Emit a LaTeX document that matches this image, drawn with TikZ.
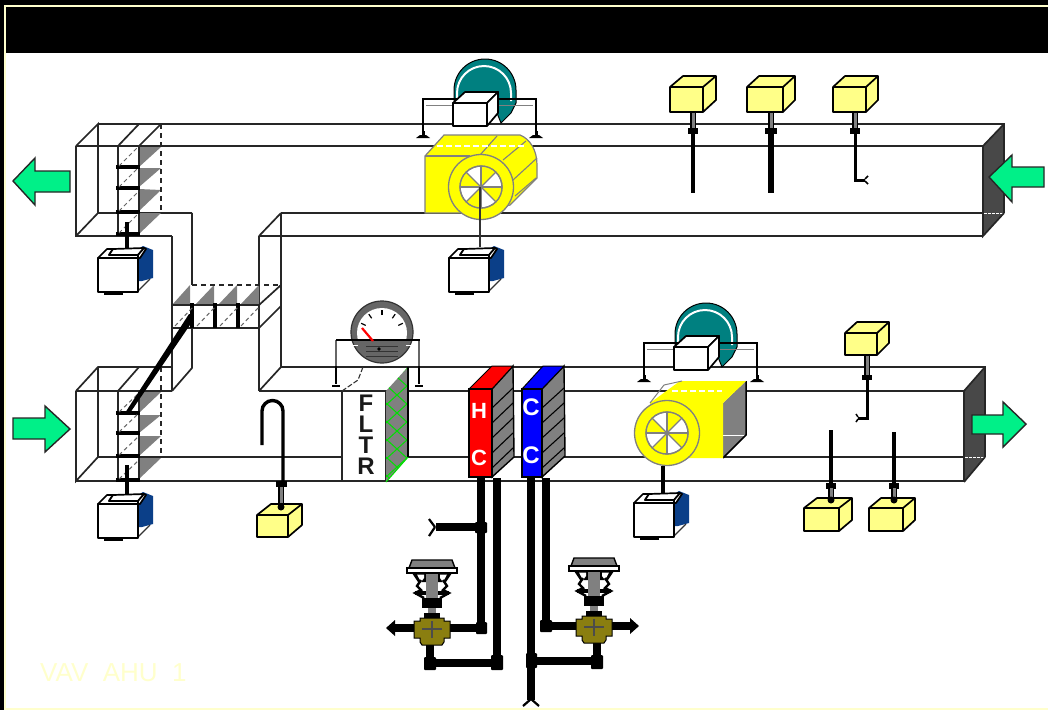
\documentclass[tikz,border=0pt]{standalone}
\usepackage{fontspec}
\setmainfont{Liberation Sans}
\usetikzlibrary{arrows.meta,calc}
\definecolor{paley}{HTML}{FFFFCC}
\definecolor{sensy}{HTML}{FFFF88}
\definecolor{fany}{HTML}{FFFF00}
\definecolor{arrowg}{HTML}{00F088}
\definecolor{teal1}{HTML}{008080}
\definecolor{endgray}{HTML}{484848}
\definecolor{g1}{HTML}{808080}
\definecolor{ctrlblue}{HTML}{0B3F88}
\definecolor{olive1}{HTML}{8A7E10}
\definecolor{lat}{HTML}{00E000}
\tikzset{
  duct/.style={draw=black!85,line width=1.7pt,line join=miter},
  thin line/.style={draw=black!80,line width=1.2pt},
  dashline/.style={draw=black!85,line width=1.5pt,dash pattern=on 5pt off 4pt},
  dashfine/.style={draw=black!60,line width=1pt,dash pattern=on 4pt off 3pt},
  bladebar/.style={draw=black,line width=3.4pt},
  greytri/.style={fill=g1,draw=none},
  pipe/.style={draw=black,line width=8pt},
  blob/.style={fill=black,rounded corners=1pt},
  flow/.style={fill=arrowg,draw=black!85,line width=1.4pt,line join=miter},
  boxline/.style={draw=black,line width=1.7pt,line join=round},
  ctrlbox/.pic={
    \fill[ctrlblue] (40,-9) -- (45,-12) -- (55,-8) -- (55,20) -- (44,23) -- (40,23) -- cycle;
    \draw[boxline,fill=white] (0,0) -- (9,-9) -- (15,-9) -- (11,-3) -- (40,-3) -- (40,0) -- cycle;
    \draw[boxline,fill=white] (15,-9) -- (11,-3) -- (40,-3) -- (46,-10) -- cycle;
    \draw[boxline,fill=white] (40,-3) -- (46,-10) -- (48,-9) -- (42,0) -- (40,0) -- cycle;
    \draw[thin line] (40,33) -- (52,21);
    \draw[boxline,fill=white] (0,0) rectangle (40,34);
    \fill (6,34) rectangle (25,37);
  },
  sens/.pic={
    \draw[boxline,fill=sensy] (0,0) -- (\sb,-\sd) -- (\sx+\sb,-\sd) -- (\sx+\sb,\sy-\sd-1) -- (\sx,\sy) -- (0,\sy) -- cycle;
    \draw[boxline] (0,0) -- (\sx,0) -- (\sx,\sy);
    \draw[boxline] (\sx,0) -- (\sx+\sb,-\sd);
  },
  sstem/.pic={
    \draw[black,line width=6pt] (0,0) -- (0,\sl);
    \draw[g1,line width=3pt] (0,0) -- (0,\sl);
  },
  actuator/.pic={
    \fill[teal1,draw=black,line width=1pt] (1,-2) -- (1,-13) arc[start angle=180,end angle=360,radius=31] -- (63,0) -- (58,10) -- (48,20) -- (40,0) -- cycle;
    \draw[white,line width=2pt] (4,-2) -- (4,-10) arc[start angle=180,end angle=360,radius=27] -- (58,-2);
    \draw[black,line width=1.8pt] (-30,31) -- (-30,-4) -- (83,-4) -- (83,31);
    \draw[black!50,line width=1pt] (-27,2) -- (80,2);
    \draw[black,line width=3pt] (-30,28) -- (-30,33);
    \draw[black,line width=3pt] (83,28) -- (83,33);
    \fill[black] (-37,35) -- (-33,32) -- (-27,32) -- (-23,35) -- cycle;
    \fill[black] (76,35) -- (80,32) -- (86,32) -- (90,35) -- cycle;
    \draw[boxline,fill=white] (0,0) -- (12,-11) -- (45,-11) -- (34,0) -- cycle;
    \draw[boxline,fill=white] (34,0) -- (45,-11) -- (45,10) -- (34,23) -- cycle;
    \draw[boxline,fill=white] (0,0) rectangle (34,23);
  },
  wheel/.pic={
    \draw[fill=fany,draw=g1,line width=1.3pt] (0,0) circle[radius=32.5];
    \draw[fill=white,draw=g1,line width=1.3pt] (0,0) circle[radius=21];
    \foreach \a in {-90,-180,90,0} \fill[fany] (0,0) -- (\a:21) arc[start angle=\a,end angle=\a+45,radius=21] -- cycle;
    \foreach \a in {0,45,...,315} \draw[g1,line width=1.3pt] (0,0) -- (\a:21);
    \draw[g1,line width=1.3pt] (0,0) circle[radius=21];
  },
  valvecore/.pic={
    \fill[g1,draw=black,line width=1.4pt] (-20,-68) -- (20,-68) -- (23,-60) -- (-23,-60) -- cycle;
    \fill[white,draw=black,line width=1.4pt] (-25,-60) rectangle (25,-55);
    \fill[black] (-20,-55) -- (20,-55) -- (14,-46) -- (-14,-46) -- cycle;
    \fill[white] (-15,-53.5) -- (-8,-53.5) -- (-8,-50) -- (-11,-46) -- cycle;
    \fill[white] (15,-53.5) -- (8,-53.5) -- (8,-50) -- (11,-46) -- cycle;
    \draw[black,line width=2.4pt] (-11,-48) -- (-15,-42) -- (-11,-38) -- (-17,-35) -- (-8,-30);
    \draw[black,line width=2.4pt] (11,-48) -- (15,-42) -- (11,-38) -- (17,-35) -- (8,-30);
    \fill[black] (-17,-37) rectangle (17,-33);
    \fill[g1] (-6,-54) rectangle (6,-30);
    \fill[black] (-10,-30) rectangle (10,-20);
    \fill[g1] (-4,-20) rectangle (4,-15);
    \fill[black] (-8,-15) rectangle (8,-10);
    \fill[olive1,draw=black,line width=1pt] (-12,-10) -- (12,-10) -- (12,-7) -- (18,-7) -- (18,10) -- (12,10) -- (12,14) -- (10,17) -- (-10,17) -- (-12,14) -- (-12,10) -- (-18,10) -- (-18,-7) -- (-12,-7) -- cycle;
    \draw[black!70,line width=1.4pt] (0,-7) -- (0,10) (-10,1) -- (10,1);
  },
}
\newcommand{\setsens}[4]{\def\sx{#1}\def\sy{#2}\def\sb{#3}\def\sd{#4}}
\newcommand{\stemlen}[1]{\def\sl{#1}}
\begin{document}
\begin{tikzpicture}[x=1pt,y=-1pt,line cap=butt]
\useasboundingbox (0,0) rectangle (1048,710);
\fill[black] (0,0) rectangle (1048,710);
\fill[paley] (4,5) rectangle (1048,710);
\fill[white] (6,7) rectangle (1048,708);
\fill[black] (6,7) rectangle (1048,53);
\node[anchor=base west,inner sep=0pt,text=paley,font=\fontsize{26}{30}\selectfont] (title) at (40,681) {VAV\ \ AHU\ \ 1};

% ---- upper duct
\fill[endgray] (983,146) -- (1004,124) -- (1004,213) -- (983,236) -- cycle;
\draw[white,line width=1pt,dash pattern=on 3pt off 1pt] (984,213) -- (1004,213);
\draw[duct] (76,146) -- (983,146);
\draw[duct] (98,124) -- (1004,124) -- (1004,213);
\draw[duct] (76,146) -- (98,124) -- (98,213);
\draw[duct] (76,146) -- (76,236) -- (172,236);
\draw[duct] (76,236) -- (98,213) -- (192,213);
\draw[duct] (983,146) -- (983,236) -- (1004,213);
\draw[duct] (983,146) -- (1004,124);
\draw[duct] (281,213) -- (983,213);
\draw[duct] (259,236) -- (983,236);
\draw[duct] (259,236) -- (281,213);
\draw[duct] (118,146) -- (139,124);
\draw[duct] (139,146) -- (161,124);
\fill[greytri] (139,147) -- (161,147) -- (139,167) -- cycle;
\fill[greytri] (139,168) -- (161,168) -- (139,187) -- cycle;
\fill[greytri] (139,189) -- (161,190) -- (139,211) -- cycle;
\fill[greytri] (139,213) -- (161,213) -- (139,234) -- cycle;
\draw[dashline] (161,124) -- (161,213);
\draw[duct] (118,146) -- (118,236) (139,146) -- (139,236);
\foreach \yy in {167,188,212,234} \draw[bladebar] (116,\yy) -- (140,\yy);
\foreach \yy in {167,188,212,234} \draw[dashfine] (119,\yy-1) -- (139,\yy-21);
\draw[duct] (172,236) -- (172,305);
\draw[duct] (192,213) -- (192,285);
\draw[duct] (281,213) -- (281,367);
\draw[duct] (259,236) -- (259,391);
\fill[greytri] (172,305) -- (190,305) -- (190,285) -- cycle;
\fill[greytri] (195,305) -- (214,305) -- (214,285) -- cycle;
\fill[greytri] (218,305) -- (237,305) -- (237,285) -- cycle;
\fill[greytri] (240,305) -- (259,305) -- (259,285) -- cycle;
\draw[dashline] (192,285) -- (281,285);
\draw[duct] (172,305) -- (259,305) (172,328) -- (259,328);
\draw[duct] (172,305) -- (172,391) (192,305) -- (192,368) -- (172,391);
\draw[duct] (259,328) -- (281,306) (259,305) -- (281,285);
\foreach \xx in {192,215,238} \draw[bladebar] (\xx,303) -- (\xx,328);
\foreach \xx in {175,197,220,241} \draw[dashfine] (\xx,326) -- (\xx+18,307);

% ---- lower duct
\fill[endgray] (964,391) -- (985,367) -- (985,457) -- (964,482) -- cycle;
\draw[white,line width=1pt,dash pattern=on 3pt off 1pt] (965,457) -- (985,457);
\draw[duct] (281,367) -- (985,367) -- (985,457);
\draw[duct] (259,391) -- (964,391) -- (964,482);
\draw[duct] (259,391) -- (281,367);
\draw[duct] (98,457) -- (964,457);
\draw[duct] (76,481) -- (964,481);
\draw[duct] (964,391) -- (985,367) (964,482) -- (985,457);
\draw[duct] (76,391) -- (98,367) -- (172,367);
\draw[duct] (76,391) -- (172,391);
\draw[duct] (76,391) -- (76,481) -- (98,457) -- (98,367);
\draw[duct] (118,391) -- (139,367);
\fill[greytri] (139,392) -- (161,392) -- (139,413) -- cycle;
\fill[greytri] (139,415) -- (161,415) -- (139,433) -- cycle;
\fill[greytri] (139,436) -- (161,436) -- (139,456) -- cycle;
\fill[greytri] (139,458) -- (161,458) -- (139,479) -- cycle;
\draw[dashline] (161,367) -- (161,457);
\draw[duct] (118,391) -- (118,481) (139,391) -- (139,481);
\foreach \yy in {413,433,456,480} \draw[bladebar] (116,\yy) -- (140,\yy);
\foreach \yy in {413,433,456,480} \draw[dashfine] (119,\yy-1) -- (139,\yy-20);
\fill[black] (125,413) -- (130,413) -- (192,322) -- (192,314) -- (189,314) -- cycle;

% ---- left actuators
\draw[black,line width=3.6pt] (127,222) -- (127,248);
\pic at (98,258) {ctrlbox};
\draw[black,line width=3.6pt] (127,465) -- (127,494);
\pic at (98,504) {ctrlbox};

% ---- arrows
\draw[flow] (13,181) -- (35,158) -- (35,171) -- (70,171) -- (70,192) -- (35,192) -- (35,205) -- cycle;
\draw[flow] (13,418) -- (45,418) -- (45,406) -- (70,429) -- (45,452) -- (45,439) -- (13,439) -- cycle;
\draw[flow] (989,177) -- (1012,155) -- (1012,167) -- (1044,167) -- (1044,187) -- (1012,187) -- (1012,202) -- cycle;
\draw[flow] (972,415) -- (1003,415) -- (1003,402) -- (1026,424) -- (1003,447) -- (1003,434) -- (972,434) -- cycle;

% ---- upper fan
\pic at (453,103) {actuator};
\fill[fany,draw=g1,line width=1.2pt] (425,213) -- (425,156) -- (444,135) -- (520,135) .. controls (530,139) and (537,150) .. (537,165) -- (537,178) -- (510,205) -- (480,213) -- cycle;
\draw[g1,line width=1.1pt] (425,156) -- (470,156);
\draw[g1,line width=1.1pt] (497,136) -- (480,155) (526,141) -- (503,160) (537,158) -- (513,180) (536,178) -- (515,196);
\draw[white,line width=1.3pt,dash pattern=on 6pt off 3pt] (437,146) -- (526,146);
\pic at (481,187) {wheel};
\draw[black!80,line width=1.4pt] (480,187) -- (480,247);
\pic at (449,258) {ctrlbox};

% ---- lower fan
\pic at (674,347) {actuator};
\fill[g1] (723,403) -- (746,381) -- (746,435) -- (723,458) -- cycle;
\draw[white,line width=1pt] (723,435) -- (746,435);
\draw[black,line width=1.5pt] (723,458) -- (746,435) -- (746,381);
\fill[fany] (723,403) -- (723,458) -- (650,458) -- (650,403) -- (680,381) -- (746,381) -- cycle;
\draw[g1,line width=1pt] (650,403) -- (664,385) -- (682,381);
\draw[white,line width=1.3pt,dash pattern=on 6pt off 3pt] (672,391) -- (722,391);
\pic at (667,433) {wheel};
\draw[black,line width=3.6pt] (663,466) -- (663,493);
\pic at (634,503) {ctrlbox};

% ---- gauge
\fill[black!60,draw=black!80,line width=1.2pt] (382,332) circle[radius=31];
\begin{scope}
\clip (340,300) rectangle (425,340);
\fill[white] (382,333) circle[radius=25];
\end{scope}
\foreach \a in {25,55,90,125,155} \draw[black,line width=1.2pt] ($(382,333)+(-\a:18)$) -- ($(382,333)+(-\a:23)$);
\draw[black!60,line width=1.4pt] (336,340) -- (336,367) (419,340) -- (419,367);
\draw[black,line width=2pt] (336,340) -- (420,340);
\draw[white,line width=1pt] (338,345) -- (358,345) (406,345) -- (418,345);
\foreach \yy in {346,351,356} \draw[black!80,line width=1pt] (366,\yy) -- (398,\yy);
\fill[black] (379,349) circle[radius=1.8];
\draw[red,line width=2.2pt] (362,328) -- (373,341);
\draw[black,line width=2.8pt] (336,366) -- (336,384) (419,366) -- (419,384);
\draw[black,line width=1.8pt] (332,386) -- (340,386) (415,386) -- (423,386);

% ---- filter
\fill[white] (342,392) rectangle (386,480);
\draw[duct] (342,391) -- (342,481) (386,391) -- (386,481);
\draw[black!80,line width=1.1pt,dash pattern=on 5pt off 2pt] (342,391) -- (358,380) -- (363,367);
\fill[g1] (386,391) -- (408,367) -- (408,457) -- (386,482) -- cycle;
\begin{scope}
\clip (386,391) -- (408,367) -- (408,457) -- (386,482) -- cycle;
\foreach \k in {-3,...,5} {
  \draw[lat,line width=1pt] (386,355+\k*18+30) -- (408,355+\k*18+50);
  \draw[lat,line width=1pt] (386,355+\k*18+50) -- (408,355+\k*18+30);
}
\end{scope}
\draw[lat,line width=1.1pt] (386,482) -- (408,457);
\draw[black,line width=1.3pt] (408,367) -- (408,457);
\node[inner sep=0pt,align=center,text=black!90,font=\fontsize{24}{21}\selectfont\bfseries] (fltr) at (366,435) {F\\L\\T\\R};

% ---- coils
\fill[g1,draw=black,line width=1.4pt] (492,389) -- (513,366) -- (514,457) -- (492,477) -- cycle;
\fill[red,draw=black,line width=1pt] (469,389) -- (492,366) -- (513,366) -- (492,389) -- cycle;
\fill[red,draw=black,line width=1.4pt] (469,389) rectangle (492,477);
\foreach \k in {0,...,4} \draw[black,line width=1.1pt] (492,408+\k*15) -- (513,388+\k*15);
\node[inner sep=0pt,text=white,font=\fontsize{22}{22}\selectfont\bfseries] (hch) at (479,411) {H};
\node[inner sep=0pt,text=white,font=\fontsize{22}{22}\selectfont\bfseries] (hcc) at (479,458) {C};
\fill[g1,draw=black,line width=1.4pt] (542,389) -- (564,366) -- (565,456) -- (542,477) -- cycle;
\fill[blue,draw=black,line width=1pt] (522,389) -- (543,366) -- (564,366) -- (542,389) -- cycle;
\fill[blue,draw=black,line width=1.4pt] (522,389) rectangle (542,477);
\foreach \k in {0,...,4} \draw[black,line width=1.1pt] (542,408+\k*15) -- (564,388+\k*15);
\node[inner sep=0pt,text=white,font=\fontsize{24}{24}\selectfont\bfseries] (cca) at (531,407) {C};
\node[inner sep=0pt,text=white,font=\fontsize{24}{24}\selectfont\bfseries] (ccb) at (531,455) {C};

% ---- pipes
\draw[pipe] (481,478) -- (481,628);
\draw[pipe] (497,478) -- (497,663) -- (430,663) -- (430,640);
\draw[pipe] (531,478) -- (531,700);
\draw[pipe] (546,478) -- (546,626) -- (600,626);
\draw[pipe] (531,661) -- (597,661) -- (597,640);
\draw[pipe] (436,527) -- (481,527);
\draw[pipe] (481,628) -- (395,628);
\draw[pipe] (600,626) -- (630,626);
\draw[black,line width=2.2pt] (435,527) -- (429,519) (435,527) -- (429,536);
\draw[black,line width=2.2pt] (531,699) -- (523,706) (531,699) -- (539,706);
\fill[black] (395,620) -- (386,628) -- (395,636) -- cycle;
\fill[black] (630,618) -- (639,626) -- (630,634) -- cycle;
\fill[blob] (475,522) rectangle (487,533);
\fill[blob] (476,622) rectangle (487,634);
\fill[blob] (491,655) rectangle (503,670);
\fill[blob] (424,657) rectangle (436,670);
\fill[blob] (526,653) rectangle (537,668);
\fill[blob] (591,655) rectangle (603,669);
\fill[blob] (540,620) rectangle (552,632);
\pic at (432,628) {valvecore};
\pic at (594,626) {valvecore};

% ---- sensors
\stemlen{17}
\setsens{33}{25}{13}{11}
\pic at (693,112) {sstem};
\fill[black] (688,128) rectangle (698,134);
\draw[black,line width=3.8pt] (693,134) -- (693,193);
\pic at (670,87) {sens};
\setsens{36}{25}{12}{11}
\pic at (771,112) {sstem};
\fill[black] (765,128) rectangle (777,134);
\draw[black,line width=5.5pt] (771,134) -- (771,193);
\pic at (747,87) {sens};
\setsens{33}{25}{12}{11}
\pic at (855,112) {sstem};
\fill[black] (850,128) rectangle (860,134);
\draw[black,line width=3pt,line join=miter] (855,134) -- (855,180) -- (865,180);
\draw[black,line width=1.5pt] (865,179) -- (868,176) (865,181) -- (868,184);
\pic at (833,87) {sens};
\setsens{32}{22}{12}{11}
\stemlen{20}
\pic at (867,355) {sstem};
\fill[black] (862,375) rectangle (872,380);
\draw[black,line width=3pt,line join=miter] (867,380) -- (867,418) -- (858,418);
\draw[black,line width=1.5pt] (858,417) -- (856,414) (858,419) -- (856,422);
\pic at (845,333) {sens};
\stemlen{13}
\setsens{35}{23}{13}{10}
\draw[black,line width=3.8pt] (831,430) -- (831,484);
\fill[black] (826,483) rectangle (836,489);
\pic at (831,488) {sstem};
\pic at (804,508) {sens};
\fill[black] (831,500) circle[radius=3.5];
\setsens{34}{23}{12}{10}
\draw[black,line width=3.8pt] (894,432) -- (894,484);
\fill[black] (889,483) rectangle (899,489);
\pic at (894,488) {sstem};
\pic at (869,508) {sens};
\fill[black] (894,500) circle[radius=3.5];
\setsens{31}{22}{14}{11}
\draw[black,line width=3.4pt] (262,445) -- (262,411) arc[start angle=180,end angle=360,radius=10.5] -- (283,482);
\fill[black] (276,481) rectangle (287,487);
\stemlen{18}
\pic at (281,487) {sstem};
\pic at (257,515) {sens};
\fill[black] (281,507) circle[radius=3.5];
\end{tikzpicture}
\end{document}
